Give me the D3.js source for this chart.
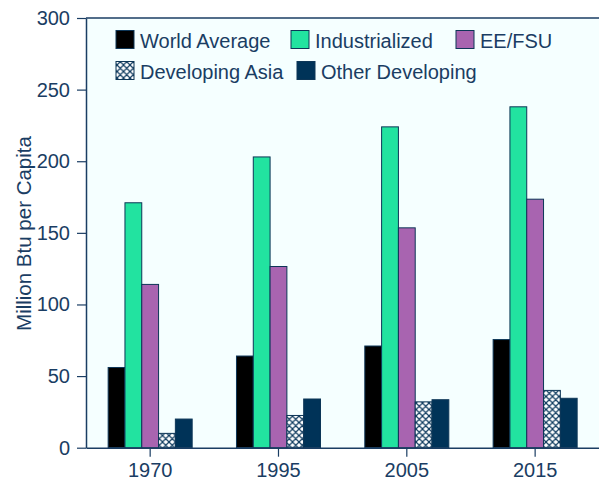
<!DOCTYPE html>
<html><head><meta charset="utf-8">
<script src="https://cdn.jsdelivr.net/npm/d3@7"></script>
<style>
html,body{margin:0;padding:0;background:#fff;}
svg{display:block;font-family:"Liberation Sans",Arial,sans-serif;}
</style></head>
<body>
<svg id="chart" width="599" height="482"></svg>
<script>
const years = ["1970","1995","2005","2015"];
const seriesNames = ["World Average","Industrialized","EE/FSU","Developing Asia","Other Developing"];
const worldAverage = [56, 64, 71, 75.5];
const industrialized = [171, 203, 224, 238];
const eeFsu = [114, 126.5, 153.5, 173.5];
const developingAsia = [10, 22.5, 32, 40];
const otherDeveloping = [20, 34, 33.5, 34.5];
const yTicks = [0, 50, 100, 150, 200, 250, 300];
const yTitle = "Million Btu per Capita";

(function () {
const seriesValues = [worldAverage, industrialized, eeFsu, developingAsia, otherDeveloping];
const fills = ["#000000", "#22e3a0", "#a864b0", "url(#hatch)", "#003358"];
const ink = "#1a3d63";
const edge = "#0d3657";

const svg = d3.select("#chart");
const pl = 86, pr = 599.3, pt = 18, pb = 447.7;

const defs = svg.append("defs");
const pat = defs.append("pattern").attr("id","hatch").attr("patternUnits","userSpaceOnUse")
  .attr("width",6.5).attr("height",6.5);
pat.append("rect").attr("width",6.5).attr("height",6.5).attr("fill","#fff");
pat.append("path").attr("d","M0,0L6.5,6.5M6.5,0L0,6.5M-1,5.5L1,7.5M5.5,-1L7.5,1M-1,1L1,-1M5.5,7.5L7.5,5.5")
  .attr("stroke","#0d3a5e").attr("stroke-width",1.2);

svg.append("rect").attr("x",pl).attr("y",pt).attr("width",pr-pl).attr("height",pb-pt)
  .attr("fill","#f5ffff");

const y = d3.scaleLinear().domain([0,300]).range([pb, pt]);
const x0 = d3.scaleBand().domain(years).range([pl, pr]).paddingInner(0.3453).paddingOuter(0.17265);
const x1 = d3.scaleBand().domain(seriesNames).range([0, x0.bandwidth()]);

const g = svg.append("g");
years.forEach((yr, i) => {
  seriesNames.forEach((s, j) => {
    const v = seriesValues[j][i];
    g.append("rect")
      .attr("x", x0(yr) + x1(s))
      .attr("y", y(v))
      .attr("width", x1.bandwidth())
      .attr("height", y(0) - y(v))
      .attr("fill", fills[j])
      .attr("stroke", edge).attr("stroke-width", 1);
  });
});

svg.append("line").attr("x1",pl).attr("x2",pr).attr("y1",pt).attr("y2",pt)
  .attr("stroke",ink).attr("stroke-width",1.5);

const yAxis = svg.append("g").attr("transform",`translate(${pl},0)`)
  .call(d3.axisLeft(y).tickValues(yTicks).tickSize(9).tickSizeOuter(0).tickPadding(7));
const xAxis = svg.append("g").attr("transform",`translate(0,${pb})`)
  .call(d3.axisBottom(x0).tickSize(9).tickSizeOuter(0).tickPadding(6));
[yAxis, xAxis].forEach(a => {
  a.select(".domain").attr("stroke", ink).attr("stroke-width",1.5);
  a.selectAll(".tick line").attr("stroke", ink).attr("stroke-width",1.2);
  a.selectAll("text").attr("fill", ink).style("font-size","20px")
    .style("font-family",'"Liberation Sans",Arial,sans-serif');
});

svg.append("text").attr("transform","translate(30.5,233.5) rotate(-90)")
  .attr("text-anchor","middle").attr("fill",ink).style("font-size","20.5px").text(yTitle);

const legendPos = [[116,30.5],[291,30.5],[456,30.5],[116,61.5],[297,61.5]];
const lg = svg.append("g");
seriesNames.forEach((s, j) => {
  const [lx, ly] = legendPos[j];
  lg.append("rect").attr("x",lx).attr("y",ly).attr("width",18).attr("height",18)
    .attr("fill",fills[j]).attr("stroke",edge).attr("stroke-width",1);
  lg.append("text").attr("x",lx+24).attr("y",ly+17.5).attr("fill",ink)
    .style("font-size","20px").text(s);
});
})();
</script>
</body></html>
